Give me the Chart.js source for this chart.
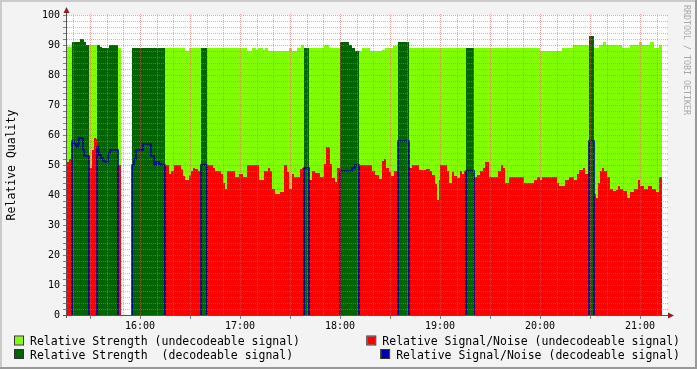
<!DOCTYPE html>
<html><head><meta charset="utf-8">
<script src="https://cdn.jsdelivr.net/npm/chart.js@4.4.1/dist/chart.umd.min.js"></script>
<style>html,body{margin:0;padding:0;background:#f3f3f3;}canvas{display:block;}</style>
</head><body>
<canvas id="c" width="697" height="369"></canvas>
<script>
// ---- DATA (time in minutes after 15:00; each value holds from times[i] to times[i+1]) ----
const strengthUndecTimes = [16.2,19.2,29.4,34.2,46.8,48.6,75.0,87.0,89.4,96.6,100.2,124.2,127.2,129.6,130.8,133.8,135.0,136.8,149.4,151.2,154.2,156.6,158.4,161.4,170.4,173.4,180.0,191.4,193.2,198.0,205.2,207.0,211.8,214.2,214.8,221.4,255.6,260.4,300.0,313.2,319.8,329.4,332.4,335.4,337.8,339.6,349.2,354.0,359.4,361.2,366.0,368.4,371.4,373.2];
const strengthUndecValues = [89.5,null,90,null,89,null,89,88,89,null,89,88,89,88.3,89,88.3,89,88,89,88,89,90,null,89,90,89,null,88,89,88,88.3,89,89.7,90,null,89,null,89,88,89,90,null,89,90,91,90,89,90,91,90,91,89,90];

const strengthDecTimes = [19.2,24.0,26.4,27.6,29.4,34.2,36.0,37.2,41.4,46.8,55.2,75.0,96.6,100.2,158.4,161.4,180.0,185.4,187.2,189.0,191.4,214.8,221.4,255.6,260.4,329.4,332.4];
const strengthDecValues = [91,92,91,90,null,90,89.3,89,90,null,89,null,89,null,89,null,91,90,89,88,null,91,null,89,null,93];

const snrUndecTimes = [
  16.2,17.4,19.2,29.4,31.2,32.4,33.6,34.2,46.8,48.6,
  75.0,77.4,78.6,80.4,84.6,85.8,87.0,89.4,90.6,91.8,93.0,94.8,96.6,
  100.2,103.8,105.0,108.6,109.8,111.0,112.2,117.0,119.4,121.8,124.2,131.4,134.4,136.8,138.0,139.2,141.0,144.0,146.4,148.2,149.4,151.2,152.4,156.0,157.2,158.4,
  161.4,163.2,165.0,168.0,170.4,171.6,173.4,174.0,175.2,177.0,178.2,180.0,
  191.4,199.2,201.0,203.4,205.2,206.4,207.6,209.4,210.6,212.4,214.8,
  221.4,223.2,227.4,231.6,234.0,235.2,237.0,238.2,239.4,240.0,244.2,245.4,247.2,248.4,250.2,252.0,253.2,254.4,255.6,
  260.4,262.2,264.0,265.8,267.0,269.4,274.8,276.6,277.8,279.0,281.4,290.4,296.4,298.2,300.0,301.2,310.2,311.4,315.0,317.4,320.4,322.2,323.4,325.8,327.0,329.4,
  332.4,333.6,334.8,336.0,337.2,338.4,340.2,342.0,343.8,345.6,346.8,348.0,349.8,352.2,354.0,356.4,358.8,360.0,362.4,364.8,367.2,369.6,371.4,373.2];
const snrUndecValues = [
  51,52,null,49,55,59,58.7,null,50,null,
  50,47,48,50,48.5,46.3,45,46.5,48,49,48.7,48,null,
  50,49,48,47,44,42,48,46,47,46,50,45,48,49,48,42,40.3,41,50,47.7,42,47,46,48.7,49,null,
  45,48,47.3,46,50.3,56,55.7,50.3,45.7,44.3,49,null,
  50,48,46.7,45.3,51.3,52,49,47.7,46.3,48,null,
  49,50,48.3,48.7,48,46.7,43.7,38.3,45,50,48,44,47.7,46.3,45.7,48,47,48,null,
  46,46.7,48,49,51,46,48,50,49,44,46,44,45,46,45,46,44,43,45,46,45,47,48.3,49,47,null,
  40.3,39,44,48,49,48,46,42,41.3,41.7,43,42,41.3,39,41,42,45,43,42,43,42,41,46];

const snrDecTimes = [19.2,20.4,21.6,22.8,23.4,25.8,26.4,29.4,34.2,35.4,36.6,37.8,39.0,40.8,42.0,46.8,55.2,56.4,57.6,61.8,66.6,68.4,69.6,71.4,72.6,75.0,96.6,100.2,158.4,161.4,180.0,187.2,189.0,191.4,214.8,221.4,255.6,260.4,329.4,332.4];
const snrDecValues = [58,57,56,57,59,55,53,null,56,53.3,52.3,51.3,51,54,55,null,50,52,55,57,53,50,51,50.3,50,null,50,null,49,null,48,49,50,null,58,null,48,null,58];

const hourTicks = [60,120,180,240,300,360];
const hourLabels = ['16:00','17:00','18:00','19:00','20:00','21:00'];
const seriesLabels = ['Relative Strength (undecodeable signal)','Relative Signal/Noise (undecodeable signal)','Relative Strength  (decodeable signal)','Relative Signal/Noise (decodeable signal)'];

// ---- helpers ----
function steps(times, values, dropToZero) {
  const pts = [];
  for (let i = 0; i < values.length; i++) {
    const v = values[i];
    if (v === null) { pts.push({x: times[i], y: null}); continue; }
    const prevNull = i === 0 || values[i-1] === null;
    if (dropToZero && prevNull) pts.push({x: times[i], y: 0});
    pts.push({x: times[i], y: v});
    const nextNull = i === values.length - 1 || values[i+1] === null;
    if (nextNull) {
      pts.push({x: times[i+1], y: v});
      if (dropToZero) pts.push({x: times[i+1], y: 0});
    }
  }
  return pts;
}
const FONT = "'DejaVu Sans Mono', monospace";
const COLORS = ['#7fff00', '#ff0000', '#006400', '#0000a0'];

const decorPlugin = {
  id: 'decor',
  beforeDraw(chart) {
    const {ctx, chartArea: a} = chart;
    const W = chart.width, H = chart.height;
    ctx.save();
    ctx.fillStyle = '#f3f3f3'; ctx.fillRect(0, 0, W, H);
    ctx.fillStyle = '#cbcbcb'; ctx.fillRect(0, 0, W, 2); ctx.fillRect(0, 0, 2, H);
    ctx.fillStyle = '#999999'; ctx.fillRect(0, H-2, W, 2); ctx.fillRect(W-2, 0, 2, H);
    ctx.fillStyle = '#ffffff'; ctx.fillRect(a.left, a.top, a.right - a.left, a.bottom - a.top);
    ctx.restore();
  },
  afterDatasetsDraw(chart) {
    const {ctx, chartArea: a, scales: {x, y}} = chart;
    ctx.save();
    ctx.lineWidth = 1;
    ctx.setLineDash([1, 1]);
    const minorC = 'rgba(140,140,140,0.55)', majorC = 'rgba(230,90,90,0.55)';
    for (let v = 2; v <= 100; v += 2) {
      const py = Math.round(y.getPixelForValue(v)) + 0.5;
      ctx.strokeStyle = v % 10 === 0 ? majorC : minorC;
      ctx.beginPath(); ctx.moveTo(a.left, py); ctx.lineTo(a.right + 1, py); ctx.stroke();
    }
    for (let t = 20; t <= 370; t += 10) {
      const px = Math.round(x.getPixelForValue(t)) + 0.5;
      ctx.strokeStyle = t % 30 === 0 ? majorC : minorC;
      ctx.beginPath(); ctx.moveTo(px, a.bottom); ctx.lineTo(px, a.top - 2); ctx.stroke();
    }
    ctx.setLineDash([]);
    // tick marks
    ctx.strokeStyle = '#808080';
    for (let v = 2; v <= 100; v += 2) {
      const py = Math.round(y.getPixelForValue(v)) + 0.5;
      ctx.beginPath(); ctx.moveTo(a.left - 4, py); ctx.lineTo(a.left - 1, py); ctx.stroke();
    }
    for (let t = 30; t <= 370; t += 30) {
      const px = Math.round(x.getPixelForValue(t)) + 0.5;
      ctx.beginPath(); ctx.moveTo(px, a.bottom + 1); ctx.lineTo(px, a.bottom + 4); ctx.stroke();
    }
    // axes
    ctx.strokeStyle = '#555555';
    ctx.beginPath(); ctx.moveTo(a.left - 0.5, a.bottom + 3); ctx.lineTo(a.left - 0.5, a.top - 6); ctx.stroke();
    ctx.beginPath(); ctx.moveTo(a.left - 4, a.bottom + 0.5); ctx.lineTo(a.right + 5, a.bottom + 0.5); ctx.stroke();
    ctx.fillStyle = '#9b1c1c';
    ctx.beginPath(); ctx.moveTo(a.left - 3.5, a.top - 2); ctx.lineTo(a.left + 2.5, a.top - 2); ctx.lineTo(a.left - 0.5, a.top - 8); ctx.closePath(); ctx.fill();
    ctx.beginPath(); ctx.moveTo(a.right + 1, a.bottom - 2.5); ctx.lineTo(a.right + 1, a.bottom + 3.5); ctx.lineTo(a.right + 7, a.bottom + 0.5); ctx.closePath(); ctx.fill();
    ctx.restore();
  },
  afterDraw(chart) {
    const {ctx} = chart;
    ctx.save();
    ctx.font = '11.5px ' + FONT;
    ctx.textBaseline = 'alphabetic';
    ctx.textAlign = 'left';
    const rows = [345, 358.5];
    const ds = chart.data.datasets;
    const items = [
      {i: 0, row: 0, side: 'left'}, {i: 1, row: 0, side: 'right'},
      {i: 2, row: 1, side: 'left'}, {i: 3, row: 1, side: 'right'}
    ];
    for (const it of items) {
      const label = ds[it.i].label;
      const w = ctx.measureText(label).width;
      const tx = it.side === 'left' ? 30 : 680 - w;
      const bx = tx - 15;
      const by = rows[it.row] - 8.5;
      ctx.fillStyle = ds[it.i].legendColor;
      ctx.fillRect(bx, by, 8, 8);
      ctx.strokeStyle = '#333'; ctx.lineWidth = 1;
      ctx.strokeRect(bx - 0.5, by - 0.5, 9, 9);
      ctx.fillStyle = '#000';
      ctx.fillText(label, tx, rows[it.row]);
    }
    // watermark
    ctx.translate(686, 5);
    ctx.rotate(Math.PI / 2);
    ctx.font = '8.3px ' + FONT;
    ctx.fillStyle = '#a8a8a8';
    ctx.textBaseline = 'middle';
    ctx.fillText('RRDTOOL / TOBI OETIKER', 0, 0);
    ctx.restore();
  }
};

const areaBase = {type: 'line', fill: 'origin', stepped: 'before', pointRadius: 0, borderWidth: 0, borderColor: 'rgba(0,0,0,0)', spanGaps: false};

new Chart(document.getElementById('c'), {
  data: {
    datasets: [
      Object.assign({}, areaBase, {label: seriesLabels[0], data: steps(strengthUndecTimes, strengthUndecValues, false), backgroundColor: COLORS[0], legendColor: COLORS[0], order: 4}),
      Object.assign({}, areaBase, {label: seriesLabels[1], data: steps(snrUndecTimes, snrUndecValues, false), backgroundColor: COLORS[1], legendColor: COLORS[1], order: 2}),
      Object.assign({}, areaBase, {label: seriesLabels[2], data: steps(strengthDecTimes, strengthDecValues, false), backgroundColor: COLORS[2], legendColor: COLORS[2], order: 3}),
      {type: 'line', label: seriesLabels[3], data: steps(snrDecTimes, snrDecValues, true), fill: false, stepped: 'before', pointRadius: 0, borderWidth: 1.6, borderColor: COLORS[3], legendColor: COLORS[3], spanGaps: false, order: 1}
    ]
  },
  options: {
    responsive: false, devicePixelRatio: 1, animation: false, events: [],
    layout: {padding: {left: 0, top: 15, right: 30, bottom: 0}},
    plugins: {legend: {display: false}, tooltip: {enabled: false}, title: {display: false}},
    scales: {
      x: {
        type: 'linear', min: 16.2, max: 376.2,
        grid: {display: false, drawTicks: false}, border: {display: false},
        afterBuildTicks: (s) => { s.ticks = hourTicks.map(v => ({value: v})); },
        afterFit: (s) => { s.height = 54; },
        ticks: {font: {family: FONT, size: 10}, color: '#000', padding: 5, maxRotation: 0, autoSkip: false,
          callback: (v) => hourLabels[hourTicks.indexOf(v)]}
      },
      y: {
        type: 'linear', min: 0, max: 100,
        grid: {display: false, drawTicks: false}, border: {display: false},
        afterFit: (s) => { s.width = 67; },
        ticks: {stepSize: 10, font: {family: FONT, size: 10}, color: '#000', padding: 7},
        title: {display: true, text: 'Relative Quality', font: {family: FONT, size: 11.5}, color: '#000', padding: {top: 5, bottom: 0}}
      }
    }
  },
  plugins: [decorPlugin]
});
</script>
</body></html>
